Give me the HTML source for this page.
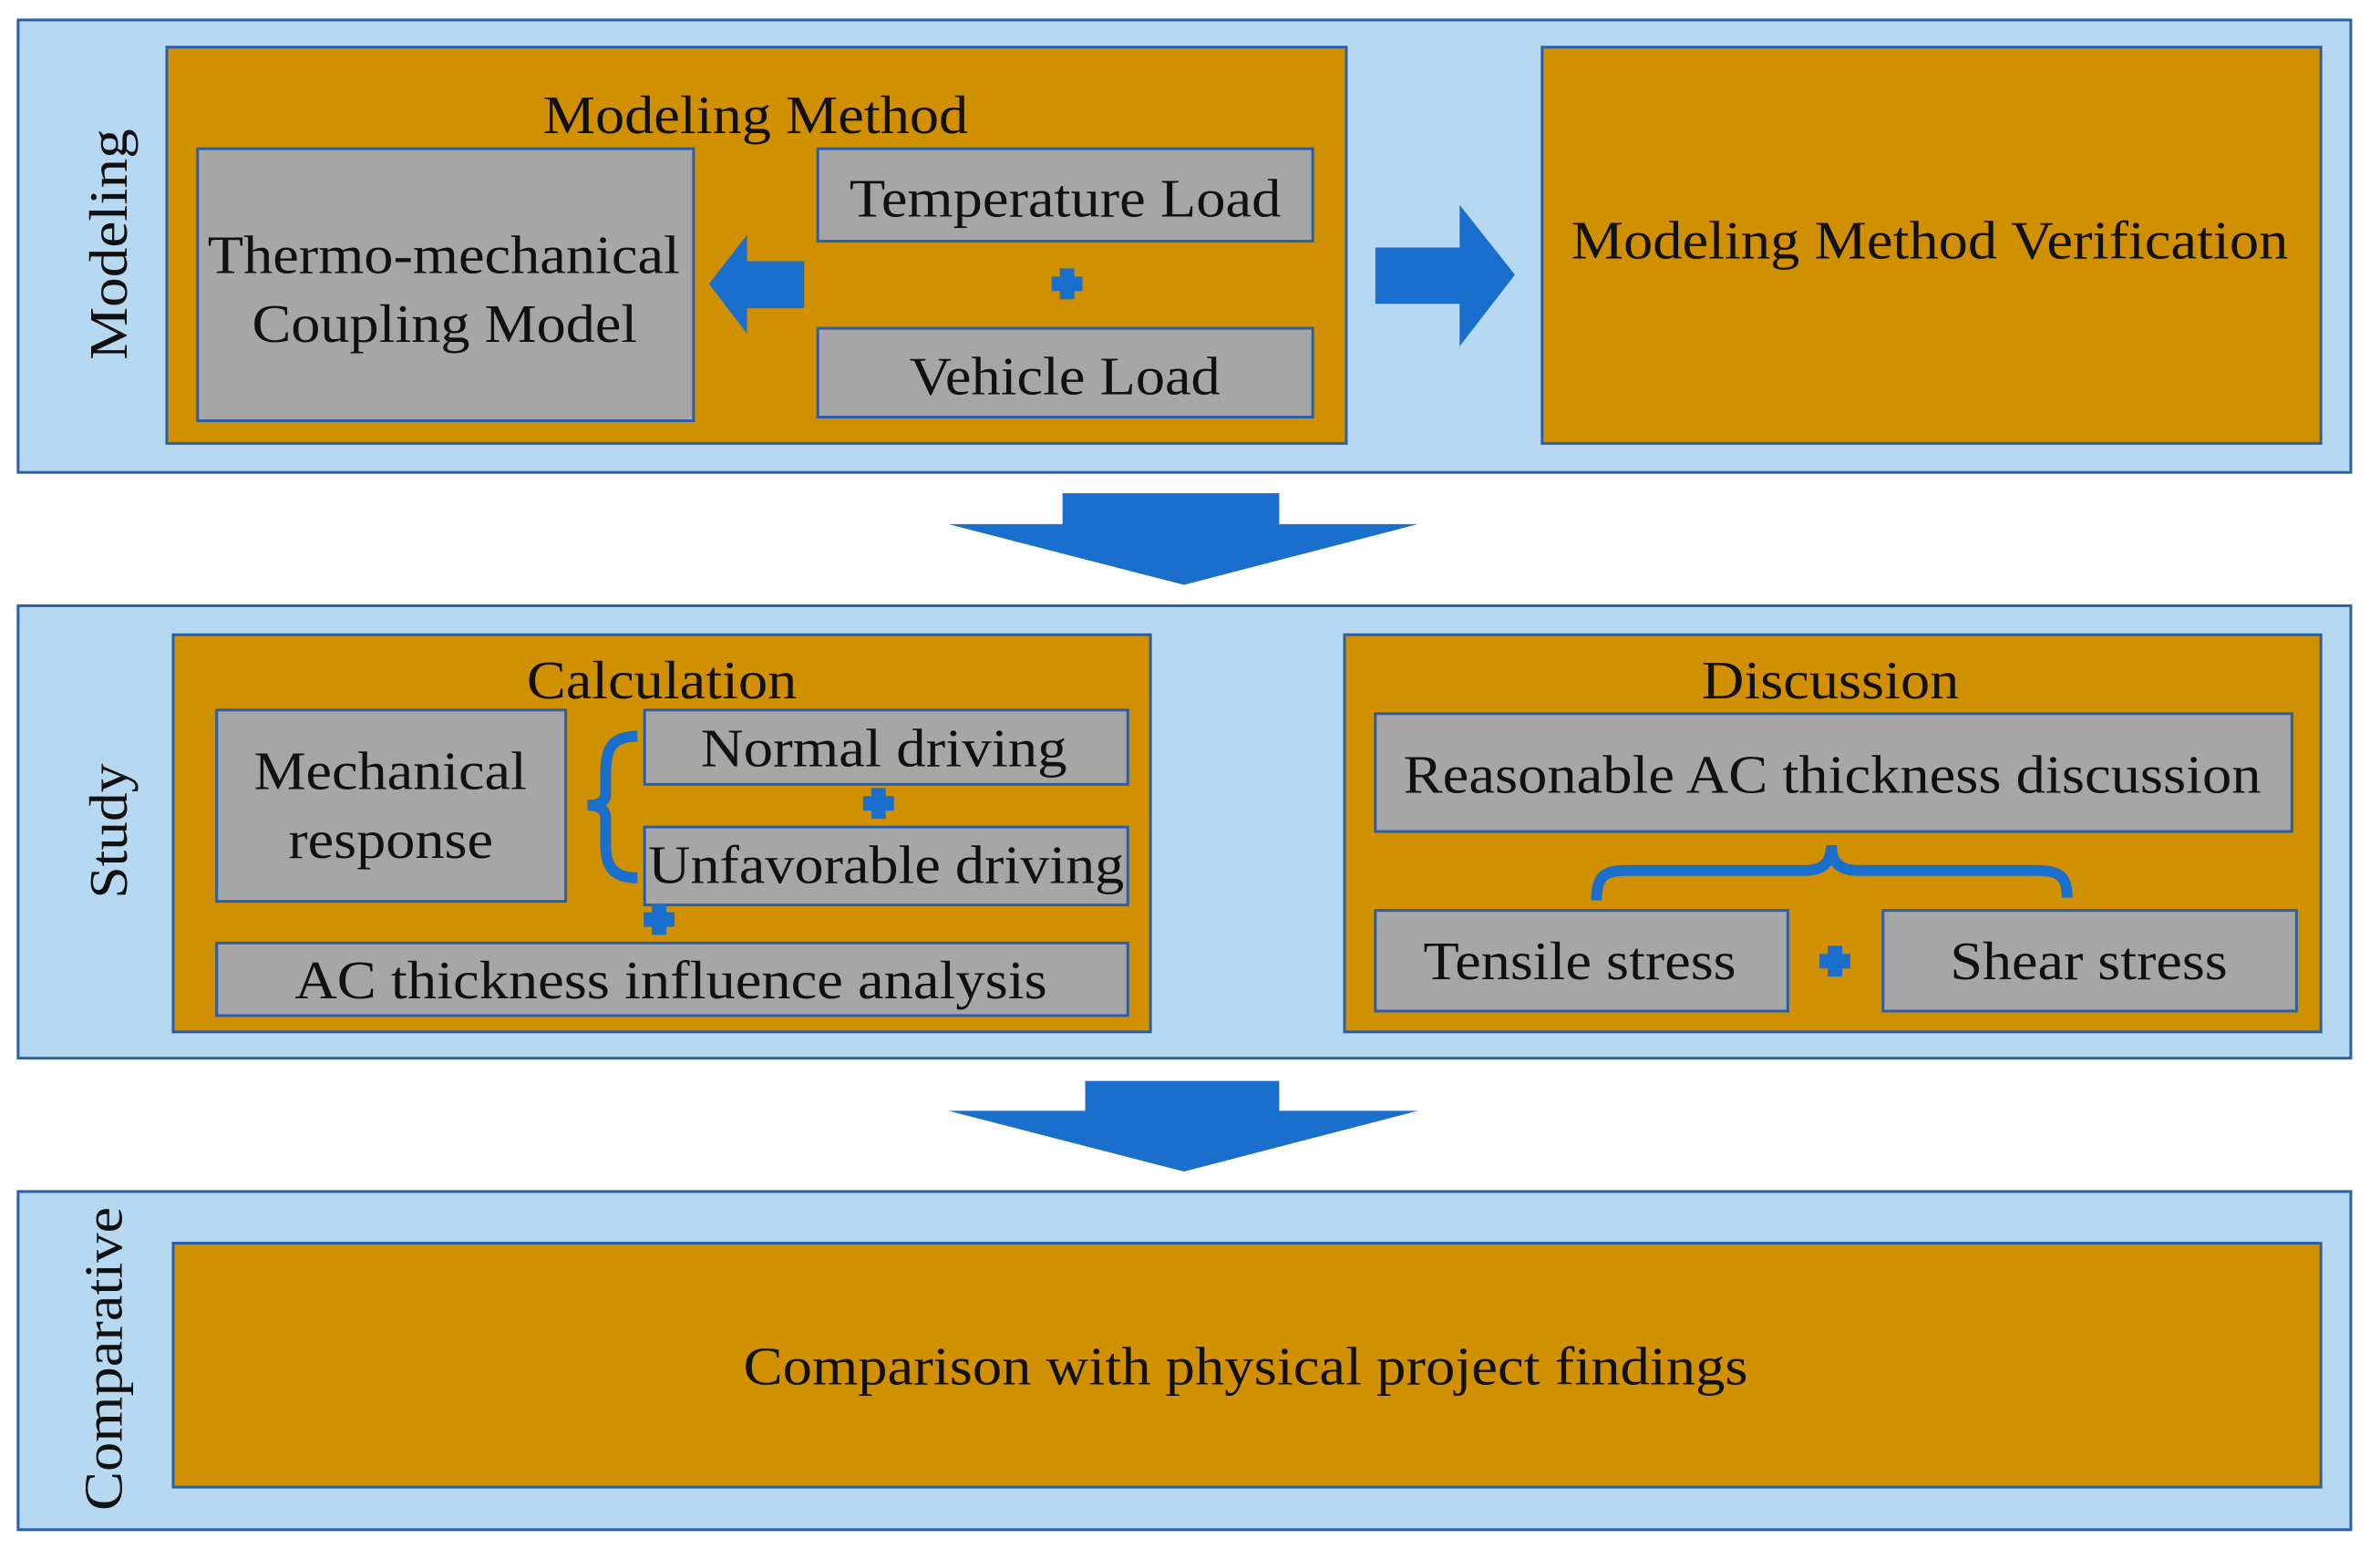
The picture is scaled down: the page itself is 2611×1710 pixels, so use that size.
<!DOCTYPE html>
<html><head><meta charset="utf-8"><style>
html,body{margin:0;padding:0;background:#fff;}
svg{display:block;}
text{font-family:"Liberation Serif",serif;fill:#111;}
</style></head><body>
<svg width="2611" height="1710" viewBox="0 0 2611 1710" xmlns="http://www.w3.org/2000/svg">
<g transform="scale(0.9946)">
<g stroke="#2a5ea8" stroke-width="3">
<rect x="20" y="22" width="2573" height="499" fill="#b6d8f0"/>
<rect x="20" y="668" width="2573" height="499" fill="#b6d8f0"/>
<rect x="20" y="1314" width="2573" height="373" fill="#b6d8f0"/>
<rect x="184" y="52" width="1301" height="437" fill="#d09000"/>
<rect x="1701" y="52" width="859" height="437" fill="#d09000"/>
<rect x="191" y="700" width="1078" height="438" fill="#d09000"/>
<rect x="1483" y="700" width="1077" height="438" fill="#d09000"/>
<rect x="191" y="1371" width="2369" height="269" fill="#d09000"/>
<rect x="218" y="164" width="547" height="300" fill="#a6a6a6"/>
<rect x="902" y="164" width="546" height="102" fill="#a6a6a6"/>
<rect x="902" y="362" width="546" height="98" fill="#a6a6a6"/>
<rect x="239" y="783" width="385" height="211" fill="#a6a6a6"/>
<rect x="711" y="783" width="533" height="82" fill="#a6a6a6"/>
<rect x="711" y="912" width="533" height="86" fill="#a6a6a6"/>
<rect x="239" y="1040" width="1005" height="80" fill="#a6a6a6"/>
<rect x="1517" y="787" width="1011" height="130" fill="#a6a6a6"/>
<rect x="1517" y="1004" width="455" height="111" fill="#a6a6a6"/>
<rect x="2077" y="1004" width="456" height="111" fill="#a6a6a6"/>
</g>
<g fill="#1a6fcc">
<polygon points="782,313 824,259 824,288 887,288 887,340 824,340 824,368"/>
<polygon points="1517,273 1610,273 1610,226 1671,303 1610,382 1610,335 1517,335"/>
<polygon points="1172,544 1411,544 1411,578 1564,578 1306,645 1046,578 1172,578"/>
<polygon points="1197,1192 1411,1192 1411,1225 1564,1225 1306,1292 1046,1225 1197,1225"/>
<g>
<rect x="1169" y="296" width="16" height="34"/><rect x="1160" y="305" width="34" height="16"/>
<rect x="961" y="869" width="16" height="34"/><rect x="952" y="878" width="34" height="16"/>
<rect x="719" y="997" width="16" height="34"/><rect x="710" y="1006" width="34" height="16"/>
<rect x="2016" y="1043" width="16" height="34"/><rect x="2007" y="1052" width="34" height="16"/>
</g>
</g>
<g fill="none" stroke="#1a6fcc" stroke-width="12">
<path d="M703,812 C670,812 668,830 668,860 L668,875 C668,885 660,888 648,888 C660,888 668,892 668,902 L668,930 C668,955 675,968 703,968"/>
<path d="M1761,993 C1761,965 1770,960 1795,960 L1990,960 C2012,960 2020,950 2020,932 C2020,950 2028,960 2050,960 L2248,960 C2275,960 2280,970 2280,990"/>
</g>
<g font-size="60">
<text x="599" y="147" textLength="469" lengthAdjust="spacingAndGlyphs">Modeling Method</text>
<text x="229" y="301" textLength="521" lengthAdjust="spacingAndGlyphs">Thermo-mechanical</text>
<text x="278" y="377" textLength="425" lengthAdjust="spacingAndGlyphs">Coupling Model</text>
<text x="937" y="239" textLength="476" lengthAdjust="spacingAndGlyphs">Temperature Load</text>
<text x="1003" y="435" textLength="343" lengthAdjust="spacingAndGlyphs">Vehicle Load</text>
<text x="1733" y="285" textLength="791" lengthAdjust="spacingAndGlyphs">Modeling Method Verification</text>
<text x="581" y="770" textLength="298" lengthAdjust="spacingAndGlyphs">Calculation</text>
<text x="280" y="870" textLength="301" lengthAdjust="spacingAndGlyphs">Mechanical</text>
<text x="318" y="946" textLength="226" lengthAdjust="spacingAndGlyphs">response</text>
<text x="773" y="845" textLength="404" lengthAdjust="spacingAndGlyphs">Normal driving</text>
<text x="715" y="974" textLength="525" lengthAdjust="spacingAndGlyphs">Unfavorable driving</text>
<text x="325" y="1101" textLength="830" lengthAdjust="spacingAndGlyphs">AC thickness influence analysis</text>
<text x="1877" y="770" textLength="284" lengthAdjust="spacingAndGlyphs">Discussion</text>
<text x="1548" y="874" textLength="946" lengthAdjust="spacingAndGlyphs">Reasonable AC thickness discussion</text>
<text x="1570" y="1080" textLength="345" lengthAdjust="spacingAndGlyphs">Tensile stress</text>
<text x="2151" y="1080" textLength="306" lengthAdjust="spacingAndGlyphs">Shear stress</text>
<text x="820" y="1527" textLength="1108" lengthAdjust="spacingAndGlyphs">Comparison with physical project findings</text>
<text transform="translate(140,397) rotate(-90)" textLength="255" lengthAdjust="spacingAndGlyphs">Modeling</text>
<text transform="translate(140,991) rotate(-90)" textLength="149" lengthAdjust="spacingAndGlyphs">Study</text>
<text transform="translate(134,1666) rotate(-90)" textLength="335" lengthAdjust="spacingAndGlyphs">Comparative</text>
</g>
</g>
</svg>
</body></html>
